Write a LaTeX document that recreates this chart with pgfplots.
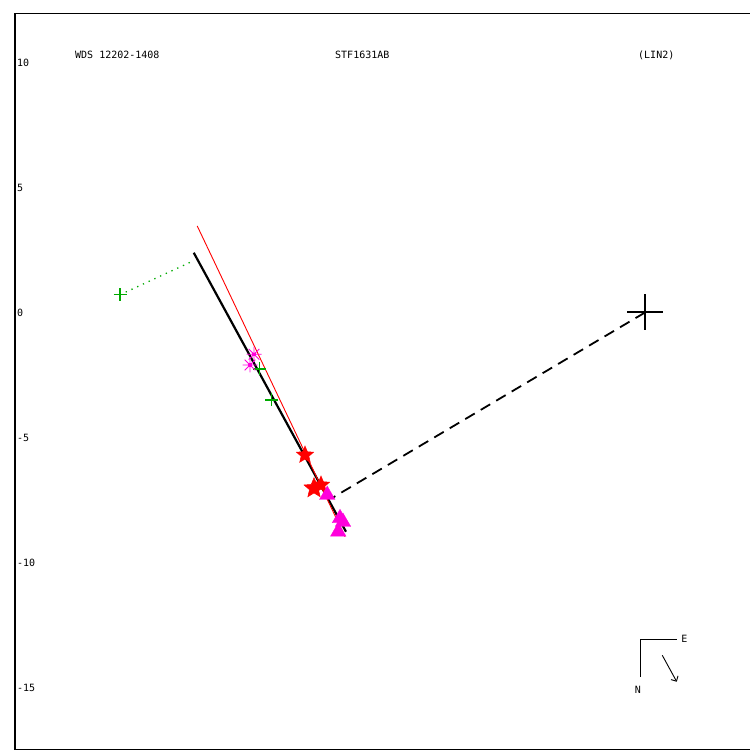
\documentclass[border=0pt]{standalone}
\usepackage{pgfplots}
\pgfplotsset{compat=1.18}
\usepackage{fontspec}
\setmainfont{DejaVu Sans Mono}
\usetikzlibrary{plotmarks,arrows.meta}

% filled five-pointed star
\pgfdeclareplotmark{fstar}{%
  \pgfpathmoveto{\pgfpointpolar{90}{\pgfplotmarksize}}%
  \pgfpathlineto{\pgfpointpolar{126}{0.45\pgfplotmarksize}}%
  \pgfpathlineto{\pgfpointpolar{162}{\pgfplotmarksize}}%
  \pgfpathlineto{\pgfpointpolar{198}{0.45\pgfplotmarksize}}%
  \pgfpathlineto{\pgfpointpolar{234}{\pgfplotmarksize}}%
  \pgfpathlineto{\pgfpointpolar{270}{0.45\pgfplotmarksize}}%
  \pgfpathlineto{\pgfpointpolar{306}{\pgfplotmarksize}}%
  \pgfpathlineto{\pgfpointpolar{342}{0.45\pgfplotmarksize}}%
  \pgfpathlineto{\pgfpointpolar{18}{\pgfplotmarksize}}%
  \pgfpathlineto{\pgfpointpolar{54}{0.45\pgfplotmarksize}}%
  \pgfpathclose
  \pgfusepathqfillstroke
}
% eight-armed asterisk with a solid centre
\pgfdeclareplotmark{ast8}{%
  \pgfpathmoveto{\pgfqpoint{-\pgfplotmarksize}{0pt}}\pgfpathlineto{\pgfqpoint{\pgfplotmarksize}{0pt}}%
  \pgfpathmoveto{\pgfqpoint{0pt}{-\pgfplotmarksize}}\pgfpathlineto{\pgfqpoint{0pt}{\pgfplotmarksize}}%
  \pgfpathmoveto{\pgfpointpolar{45}{\pgfplotmarksize}}\pgfpathlineto{\pgfpointpolar{225}{\pgfplotmarksize}}%
  \pgfpathmoveto{\pgfpointpolar{135}{\pgfplotmarksize}}\pgfpathlineto{\pgfpointpolar{315}{\pgfplotmarksize}}%
  \pgfusepathqstroke
  \pgfpathrectangle{\pgfqpoint{-1.6pt}{-1.6pt}}{\pgfqpoint{3.2pt}{3.2pt}}%
  \pgfusepathqfill
}

\definecolor{wgreen}{RGB}{0,170,0}
\definecolor{wmag}{RGB}{255,0,220}
\definecolor{wred}{RGB}{255,0,0}

\begin{document}
\begin{tikzpicture}
\useasboundingbox (0,0) rectangle (750pt,750pt);
\begin{axis}[
  at={(15pt,1pt)}, anchor=south west,
  scale only axis, width=745pt, height=735pt,
  xmin=-25.2, xmax=4.6, ymin=-17.46, ymax=11.94,
  axis line style={line width=1pt},
  font=\fontsize{10}{12}\selectfont,
  xtick=\empty,
  ytick={-15,-10,-5,0,5,10},
  yticklabels={-15,-10,-5,0,5,10},
  major tick length=0pt,
  tick align=inside,
  yticklabel style={anchor=west, inner sep=2pt},
  clip=true,
]
% fitted line (LIN2)
\addplot[black, line width=2.2pt, no marks] coordinates {(-18.05,2.39) (-11.96,-8.77)};
% reference line
\addplot[wred, line width=0.9pt, no marks] coordinates {(-17.91,3.46) (-12.0,-8.97)};
% primary to predicted position
\addplot[black, line width=1.8pt, dash pattern=on 11pt off 7pt, no marks] coordinates {(0,0) (-12.53,-7.43)};
% residual of the early measure
\addplot[wgreen, line width=1.3pt, dash pattern=on 1.3pt off 5pt, no marks] coordinates {(-21.0,0.71) (-18.08,2.06)};

% micrometer measures
\addplot[wgreen, only marks, mark=+, mark size=6.5pt, line width=1.3pt] coordinates {(-21.0,0.71) (-15.43,-2.26) (-14.93,-3.5)};
% photographic measures
\addplot[wmag, only marks, mark=ast8, mark size=7.5pt, line width=0.8pt] coordinates {(-15.64,-1.67) (-15.8,-2.1)};
% speckle measures
\addplot[wred, only marks, mark=fstar, mark size=9pt, line width=0.5pt] coordinates {(-13.6,-5.7) (-12.96,-6.9)};
\addplot[wred, only marks, mark=fstar, mark size=10.5pt, line width=0.5pt] coordinates {(-13.24,-7.03)};
% space-based measures
\addplot[wmag, only marks, mark=triangle*, mark size=9pt, line width=0.3pt] coordinates {(-12.71,-7.3) (-12.2,-8.23) (-12.08,-8.38) (-12.27,-8.77)};

% primary star
\addplot[black, only marks, mark=+, mark size=18pt, line width=2pt] coordinates {(0,0)};

% compass
\draw[black, line width=1pt] (axis cs:1.27,-13.07) -- (axis cs:-0.17,-13.07) -- (axis cs:-0.17,-14.57);
\draw[black, line width=0.9pt, -{Straight Barb[length=4pt,width=8pt]}] (axis cs:0.69,-13.71) -- (axis cs:1.27,-14.77);
\node[anchor=west, inner sep=0pt] at (axis cs:1.45,-13.04) {E};
\node[anchor=center, inner sep=0pt] at (axis cs:-0.28,-15.1) {N};

% header
\node[anchor=west, inner sep=0pt] at (axis cs:-22.8,10.3) {WDS 12202-1408};
\node[anchor=west, inner sep=0pt] at (axis cs:-12.4,10.3) {STF1631AB};
\node[anchor=west, inner sep=0pt] at (axis cs:-0.28,10.3) {(LIN2)};
\end{axis}
\end{tikzpicture}
\end{document}
